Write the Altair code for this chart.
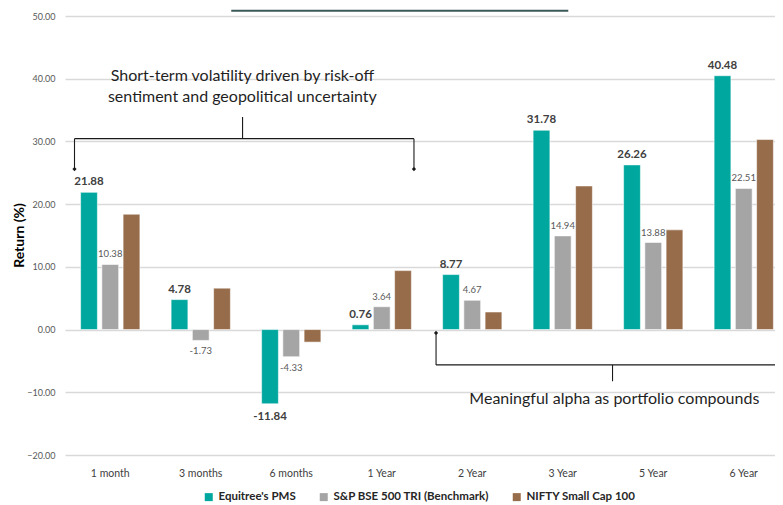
import altair as alt
import pandas as pd

# ---------------- data ----------------
periods = ["1 month", "3 months", "6 months", "1 Year", "2 Year", "3 Year", "5 Year", "6 Year"]
series_names = ["Equitree's PMS", "S&P BSE 500 TRI (Benchmark)", "NIFTY Small Cap 100"]
series_keys = ["eq", "bm", "ns"]
equitree = [21.88, 4.78, -11.84, 0.76, 8.77, 31.78, 26.26, 40.48]
benchmark = [10.38, -1.73, -4.33, 3.64, 4.67, 14.94, 13.88, 22.51]
nifty = [18.4, 6.6, -2.0, 9.4, 2.8, 22.9, 15.9, 30.3]
colors = ["#00A79F", "#A5A5A5", "#976C4A"]
y_ticks = [-20, -10, 0, 10, 20, 30, 40, 50]
y_title = "Return (%)"

title_text = "Period-Wise Performance"
note_top_lines = ["Short-term volatility driven by risk-off", "sentiment and geopolitical uncertainty"]
note_top_x = [1.96, 1.96]
note_top_y = [40.4, 37.1]
note_bottom_text = "Meaningful alpha as portfolio compounds"
note_bottom_x = 6.07
note_bottom_y = -11.0
# bracket segments in (category position, return %) units
seg_x = [1.962, 0.105, 0.105, 3.856, 4.10, 4.10, 6.05, 1.837]
seg_x2 = [1.962, 3.856, 0.105, 3.856, 4.10, 8.40, 6.05, 5.561]
seg_y = [33.9, 30.44, 30.44, 30.44, -0.53, -5.63, -5.63, 50.84]
seg_y2 = [30.44, 30.44, 25.6, 25.6, -5.63, -5.63, -8.24, 50.84]
seg_kind = ["b", "b", "b", "b", "b", "b", "b", "t"]
end_x = [0.105, 3.856, 4.10]
end_y = [25.6, 25.6, -0.53]

rows = []
for key, name, vals in zip(series_keys, series_names, [equitree, benchmark, nifty]):
    for p, v in zip(periods, vals):
        rows.append({"period": p, "series": name, "key": key, "value": v})
df = pd.DataFrame(rows)

seg_df = pd.DataFrame({"x": seg_x, "x2": seg_x2, "y": seg_y, "y2": seg_y2, "kind": seg_kind})
end_df = pd.DataFrame({"x": end_x, "y": end_y})
note_top_df = pd.DataFrame({"x": note_top_x, "y": note_top_y, "t": note_top_lines})
note_bot_df = pd.DataFrame({"x": [note_bottom_x], "y": [note_bottom_y], "t": [note_bottom_text]})
title_df = pd.DataFrame({"x": [3.7], "y": [51.9], "t": [title_text]})
ytitle_df = pd.DataFrame({"x": [-0.5], "y": [15.0], "t": [y_title]})

# ---------------- scales / encodings ----------------
X_RANGE = [0, 724]
FONT = "Lato"

y_scale = alt.Scale(domain=[-20, 50], nice=False, zero=False)
y_axis = alt.Axis(values=y_ticks, format=".2f", title=None,
                  labelFont=FONT, labelFontSize=9, labelColor="#595959", labelPadding=10,
                  ticks=False, domain=False, gridColor="#d9d9d9", gridWidth=1.3)

x_enc = alt.X(
    "period:N", sort=periods,
    scale=alt.Scale(domain=periods, range=X_RANGE, paddingInner=0.345, paddingOuter=0.1725),
    axis=alt.Axis(title=None, labelAngle=0, labelFont=FONT, labelFontSize=10.5,
                  labelColor="#404040", labelPadding=13, ticks=False, domain=False, grid=False),
)
xoff_enc = alt.XOffset("series:N", sort=series_names,
                       scale=alt.Scale(domain=series_names, paddingInner=0.21, paddingOuter=0))
y_enc = alt.Y("value:Q", scale=y_scale, axis=y_axis)
color_enc = alt.Color(
    "series:N", sort=series_names, scale=alt.Scale(domain=series_names, range=colors),
    legend=alt.Legend(title=None, orient="none", legendX=138, legendY=475, direction="horizontal",
                      symbolType="square", symbolSize=64, symbolStrokeWidth=0,
                      labelFont=FONT, labelFontSize=11.5, labelFontWeight="bold", labelColor="#262626",
                      columnPadding=22, labelOffset=4, padding=0),
)

bars = alt.Chart(df).mark_bar(stroke="#ffffff", strokeWidth=1, strokeOpacity=0.55).encode(
    x=x_enc, xOffset=xoff_enc, y=y_enc, color=color_enc)

LABEL_EXPR = "(datum.value < 0 ? '-' : '') + format(abs(datum.value), '.2f')"


def label_layer(key, positive, size, weight, color):
    cond = (alt.datum.key == key) & ((alt.datum.value >= 0) if positive else (alt.datum.value < 0))
    return alt.Chart(df).transform_filter(cond).transform_calculate(lbl=LABEL_EXPR).mark_text(
        font=FONT, fontSize=size, fontWeight=weight, color=color,
        baseline="bottom" if positive else "top", dy=-5 if positive else 7 if key == "eq" else 6,
    ).encode(x=x_enc, xOffset=xoff_enc, y=alt.Y("value:Q", scale=y_scale, axis=y_axis),
             text="lbl:N")


labels = [
    label_layer("eq", True, 11.5, "bold", "#404040"),
    label_layer("eq", False, 11.5, "bold", "#404040"),
    label_layer("bm", True, 9.5, "normal", "#595959"),
    label_layer("bm", False, 9.5, "normal", "#595959"),
]

data_layer = alt.layer(bars, *labels)

# annotation layer (independent linear x in category units)
ax = alt.X("x:Q", scale=alt.Scale(domain=[0, 8], range=X_RANGE, nice=False, zero=False), axis=None)
ay = alt.Y("y:Q", scale=y_scale, axis=y_axis)

bracket = alt.Chart(seg_df).transform_filter(alt.datum.kind == "b").mark_rule(
    color="#1a1a1a", strokeWidth=1.1).encode(x=ax, x2="x2:Q", y=ay, y2="y2:Q")
underline = alt.Chart(seg_df).transform_filter(alt.datum.kind == "t").mark_rule(
    color="#3d5a5a", strokeWidth=2.2).encode(x=ax, x2="x2:Q", y=ay, y2="y2:Q")
ends = alt.Chart(end_df).mark_point(shape="diamond", filled=True, color="#1a1a1a", size=18,
                                    opacity=1).encode(x=ax, y=ay)
note_top = alt.Chart(note_top_df).mark_text(font=FONT, fontSize=16, color="#1f1f1f",
                                             baseline="middle").encode(x=ax, y=ay, text="t:N")
note_bot = alt.Chart(note_bot_df).mark_text(font=FONT, fontSize=16, color="#1f1f1f",
                                             baseline="middle").encode(x=ax, y=ay, text="t:N")
title = alt.Chart(title_df).mark_text(font=FONT, fontSize=30, fontWeight="bold", color="#3d5a5a",
                                      baseline="alphabetic").encode(x=ax, y=ay, text="t:N")
ytitle = alt.Chart(ytitle_df).mark_text(font=FONT, fontSize=14, fontWeight="bold", color="#000000",
                                        angle=270, baseline="middle").encode(x=ax, y=ay, text="t:N")

anno_layer = alt.layer(bracket, underline, ends, note_top, note_bot, title, ytitle)

chart = alt.layer(data_layer, anno_layer).resolve_scale(x="independent").properties(
    width=710, height=439,
    autosize=alt.AutoSizeParams(type="none"),
    padding={"left": 57, "top": 8, "right": 0, "bottom": 50},
    background="#ffffff",
).configure_view(stroke=None)

chart.save("out.html", embed_options={"renderer": "svg", "actions": False})
